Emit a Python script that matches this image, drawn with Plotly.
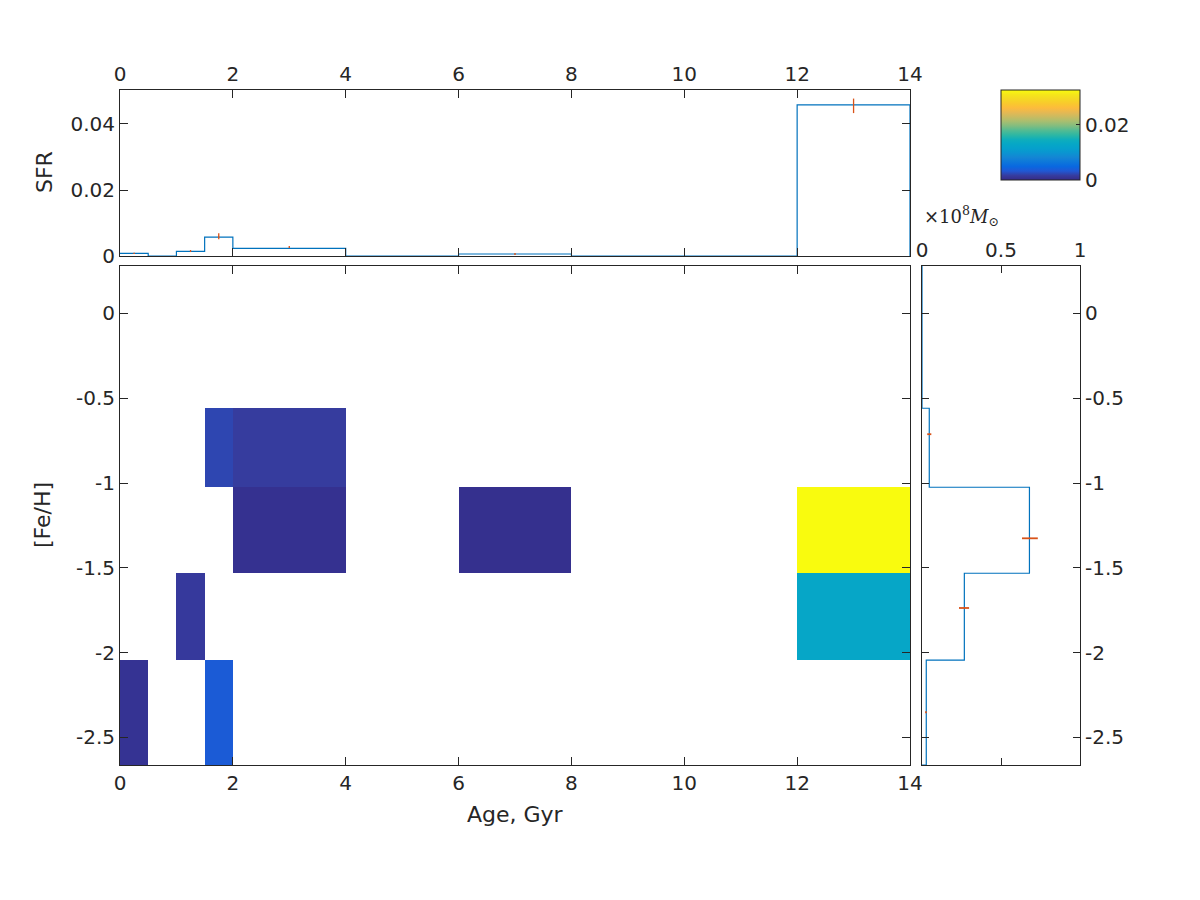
import plotly.graph_objects as go

# bins
age_edges = [0, 0.5, 1, 1.5, 2, 4, 6, 8, 10, 12, 14]
feh_edges = [-2.663, -2.045, -1.532, -1.025, -0.559, 0.28]

# SFR per (age, [Fe/H]) cell, rows = [Fe/H] bins (bottom -> top), None = empty
sfr_map = [
    [0.0008, None, None, 0.0036, None, None, None, None, None, None],
    [None, None, 0.0014, None, None, None, None, None, None, 0.0128],
    [None, None, None, None, 0.0006, None, 0.0005, None, None, 0.0327],
    [None, None, None, 0.0022, 0.0016, None, None, None, None, None],
    [None, None, None, None, None, None, None, None, None, None],
]

# top panel: total SFR per age bin + error bars
sfr_total = [0.0008, 0, 0.0014, 0.0057, 0.0023, 0, 0.0006, 0, 0, 0.0458]
err_age = [0.25, 1.25, 1.75, 3, 7, 13]
err_sfr = [0.0008, 0.0015, 0.006, 0.0027, 0.0006, 0.0455]
err_sfr_d = [0.0002, 0.0003, 0.0009, 0.0003, 0.0003, 0.0022]

# right panel: mass per [Fe/H] bin (1e8 Msun) + error bars
mass_feh = [0.027, 0.268, 0.68, 0.046, 0]
err_feh = [-2.352, -1.737, -1.326, -0.712]
err_mass = [0.025, 0.266, 0.683, 0.046]
err_mass_d = [0.005, 0.032, 0.05, 0.013]

feh_ticks = [0, -0.5, -1, -1.5, -2, -2.5]
feh_labels = ['0', '-0.5', '-1', '-1.5', '-2', '-2.5']

parula = [
    [0.0, '#352a87'], [0.05, '#363c9f'], [0.1, '#2058d4'], [0.15, '#0968e0'],
    [0.2, '#0d77da'], [0.25, '#1485d4'], [0.3, '#0b94d1'], [0.35, '#06a0cc'],
    [0.4, '#06a7c6'], [0.45, '#0faebb'], [0.5, '#2db7a3'], [0.55, '#52bb93'],
    [0.6, '#81bd80'], [0.65, '#a7be70'], [0.7, '#c8bb61'], [0.75, '#e5b853'],
    [0.8, '#fcbb3d'], [0.85, '#f9c92d'], [0.9, '#f5d824'], [0.95, '#f5e61a'],
    [1.0, '#f9fb0e'],
]

TXT = '#262626'
BLUE = '#0072BD'
RED = '#D95319'
FONT = 'DejaVu Sans'
W, H = 1200, 900
OFF = 8  # page body margin


def px(x):
    return (x - OFF) / W


def py(y):
    return 1 - (y - OFF) / H


fig = go.Figure()

fig.add_trace(go.Heatmap(
    x=age_edges, y=feh_edges, z=sfr_map,
    colorscale=parula, zmin=0, zmax=0.0327,
    xaxis='x', yaxis='y',
    colorbar=dict(
        x=px(1001), xanchor='left', y=py(180), yanchor='bottom',
        len=90 / H, lenmode='fraction', thickness=79, thicknessmode='pixels',
        xpad=0, ypad=0, outlinewidth=1, outlinecolor=TXT,
        tickvals=[0, 0.02], ticktext=['0', '0.02'], ticks='inside', ticklen=4,
        tickcolor=TXT, tickfont=dict(size=20, color=TXT, family=FONT),
    ),
))

# SFR stairs
fig.add_trace(go.Scatter(
    x=age_edges + [age_edges[-1]], y=sfr_total + [sfr_total[-1], 0],
    mode='lines', line=dict(color=BLUE, width=1.2, shape='hv'),
    xaxis='x2', yaxis='y2', showlegend=False,
))
fig.add_trace(go.Scatter(
    x=err_age, y=err_sfr, mode='markers', marker=dict(size=1, color=RED),
    error_y=dict(type='data', array=err_sfr_d, color=RED, thickness=1.3, width=0),
    xaxis='x2', yaxis='y2', showlegend=False,
))

# mass vs [Fe/H] stairs
fig.add_trace(go.Scatter(
    x=[0] + mass_feh + [mass_feh[-1]], y=[feh_edges[0]] + feh_edges,
    mode='lines', line=dict(color=BLUE, width=1.2, shape='vh'),
    xaxis='x3', yaxis='y3', showlegend=False,
))
fig.add_trace(go.Scatter(
    x=err_mass, y=err_feh, mode='markers', marker=dict(size=1, color=RED),
    error_x=dict(type='data', array=err_mass_d, color=RED, thickness=1.8, width=0),
    xaxis='x3', yaxis='y3', showlegend=False,
))

ax = dict(showline=True, linecolor=TXT, linewidth=1, mirror='ticks', ticks='inside',
          ticklen=8, tickcolor=TXT, showgrid=False, zeroline=False, automargin=False,
          tickfont=dict(size=20, color=TXT, family=FONT))

main_x = [px(120), px(910)]
main_y = [py(765), py(266)]

fig.update_layout(
    width=W, height=H, margin=dict(l=0, r=0, t=0, b=0, autoexpand=False),
    paper_bgcolor='white', plot_bgcolor='white', showlegend=False,
    font=dict(family=FONT, color=TXT),
    xaxis=dict(ax, domain=main_x, range=[0, 14], anchor='y',
               tickvals=list(range(0, 15, 2))),
    yaxis=dict(ax, domain=main_y, range=[feh_edges[0], feh_edges[-1]],
               anchor='x', tickvals=feh_ticks, ticktext=feh_labels),
    xaxis2=dict(ax, domain=main_x, range=[0, 14], anchor='y2',
                side='top', tickvals=list(range(0, 15, 2))),
    yaxis2=dict(ax, domain=[py(256), py(90)], range=[0, 0.0503], anchor='x2',
                tickvals=[0, 0.02, 0.04], ticktext=['0', '0.02', '0.04']),
    xaxis3=dict(ax, domain=[px(922), px(1080)], range=[0, 1], anchor='y3',
                side='top', tickvals=[0, 0.5, 1], ticktext=['0', '0.5', '1'], ticklen=7),
    yaxis3=dict(ax, domain=main_y, range=[feh_edges[0], feh_edges[-1]],
                anchor='x3', side='right', ticklen=7, tickvals=feh_ticks,
                ticktext=feh_labels),
)

# axis titles
fig.add_annotation(x=px(515), y=py(814), xref='paper', yref='paper',
                   xanchor='center', yanchor='middle',
                   text='Age, Gyr', showarrow=False, font=dict(size=22, color=TXT))
fig.add_annotation(x=px(42), y=py(515), xref='paper', yref='paper',
                   xanchor='center', yanchor='middle',
                   text='[Fe/H]', textangle=-90, showarrow=False,
                   font=dict(size=22, color=TXT))
fig.add_annotation(x=px(44), y=py(172), xref='paper', yref='paper',
                   xanchor='center', yanchor='middle',
                   text='SFR', textangle=-90, showarrow=False,
                   font=dict(size=22, color=TXT))
fig.add_annotation(
    x=px(922), y=py(216), xref='paper', yref='paper',
    xanchor='left', yanchor='middle', showarrow=False,
    text='×10<sup>8</sup><i>M</i><sub>⊙</sub>',
    font=dict(size=18, color=TXT, family='DejaVu Serif'),
)

fig.write_html('out.html')
